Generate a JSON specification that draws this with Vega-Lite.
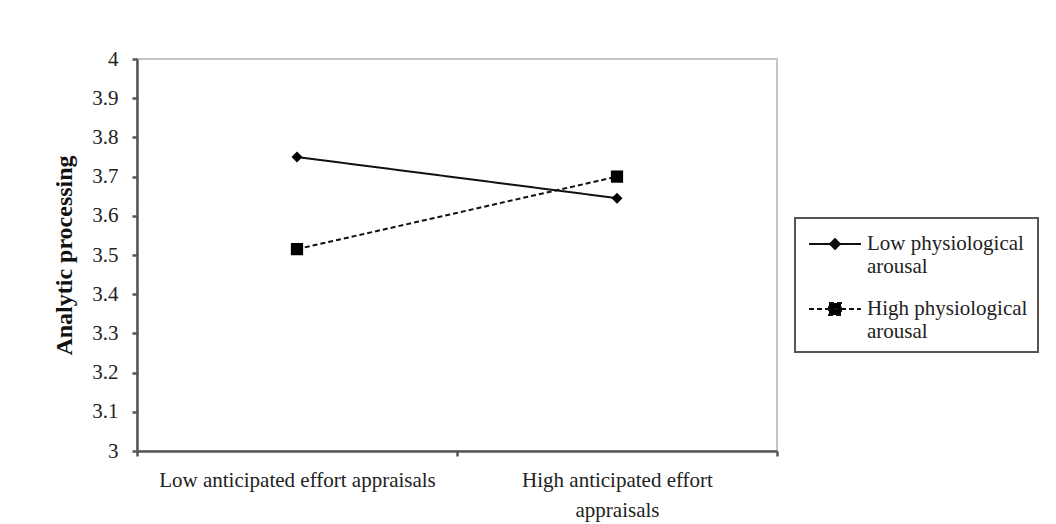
{
  "$schema": "https://vega.github.io/schema/vega-lite/v6.json",
  "width": 640,
  "height": 392,
  "autosize": {"type": "none"},
  "padding": {"left": 137, "top": 59, "right": 279, "bottom": 73},
  "background": "white",
  "config": {
    "font": "Liberation Serif",
    "view": {"stroke": "#c4c4c4", "strokeWidth": 2},
    "legend": {"strokeWidth": 2},
    "axis": {
      "grid": false,
      "domainColor": "#555",
      "domainWidth": 2.5,
      "tickColor": "#555",
      "tickWidth": 2.5,
      "tickSize": 5,
      "labelFont": "Liberation Serif",
      "labelColor": "#222",
      "titleFont": "Liberation Serif"
    }
  },
  "data": {
    "values": [
      {"effort": "Low anticipated effort appraisals", "arousal": "Low physiological arousal", "value": 3.75},
      {"effort": "High anticipated effort appraisals", "arousal": "Low physiological arousal", "value": 3.645},
      {"effort": "Low anticipated effort appraisals", "arousal": "High physiological arousal", "value": 3.515},
      {"effort": "High anticipated effort appraisals", "arousal": "High physiological arousal", "value": 3.7}
    ]
  },
  "encoding": {
    "x": {
      "field": "effort",
      "type": "nominal",
      "sort": ["Low anticipated effort appraisals", "High anticipated effort appraisals"],
      "scale": {"paddingInner": 0, "paddingOuter": 0},
      "axis": {
        "title": null,
        "labelAngle": 0,
        "tickBand": "extent",
        "labelPadding": 13,
        "labelLineHeight": 30,
        "labelLimit": 400,
        "labelFontSize": 21,
        "labelExpr": "datum.value == 'High anticipated effort appraisals' ? ['High anticipated effort', 'appraisals'] : datum.label"
      }
    },
    "y": {
      "field": "value",
      "type": "quantitative",
      "scale": {"domain": [3, 4], "nice": false, "zero": false},
      "axis": {
        "title": "Analytic processing",
        "values": [3, 3.1, 3.2, 3.3, 3.4, 3.5, 3.6, 3.7, 3.8, 3.9, 4],
        "format": ".1~f",
        "labelFontSize": 21,
        "labelPadding": 14,
        "titleFontSize": 24,
        "titleFontWeight": "bold",
        "titleColor": "#111",
        "titlePadding": 15
      }
    }
  },
  "layer": [
    {
      "mark": {"type": "line", "strokeWidth": 2, "color": "#111"},
      "encoding": {
        "detail": {"field": "arousal"},
        "strokeDash": {
          "field": "arousal",
          "type": "nominal",
          "scale": {
            "domain": ["Low physiological arousal", "High physiological arousal"],
            "range": [[1, 0], [5, 3]]
          },
          "legend": {
            "title": null,
            "orient": "none",
            "legendX": 658,
            "legendY": 159,
            "strokeColor": "#555",
            "padding": 10,
            "symbolSize": 900,
            "symbolOffset": 14,
            "symbolStrokeWidth": 2,
            "symbolStrokeColor": "#111",
            "symbolFillColor": "#000",
            "symbolType": {"expr": "datum.value == 'Low physiological arousal' ? 'M -1.73 0 L 1.73 0 M 0 -0.33 L 0.33 0 L 0 0.33 L -0.33 0 Z' : 'M -1.73 0 L 1.73 0 M -0.4 -0.4 L 0.4 -0.4 L 0.4 0.4 L -0.4 0.4 Z'"},
            "labelFont": "Liberation Serif",
            "labelFontSize": 21,
            "labelColor": "#222",
            "labelOffset": 16,
            "labelLimit": 300,
            "rowPadding": 16,
            "labelExpr": "datum.value == 'Low physiological arousal' ? ['Low physiological', 'arousal'] : ['High physiological', 'arousal']"
          }
        }
      }
    },
    {
      "transform": [{"filter": "datum.arousal == 'Low physiological arousal'"}],
      "mark": {"type": "point", "filled": true, "opacity": 1, "color": "#000", "size": 120, "shape": "diamond"}
    },
    {
      "transform": [{"filter": "datum.arousal == 'High physiological arousal'"}],
      "mark": {"type": "point", "filled": true, "opacity": 1, "color": "#000", "size": 150, "shape": "square"}
    }
  ]
}
